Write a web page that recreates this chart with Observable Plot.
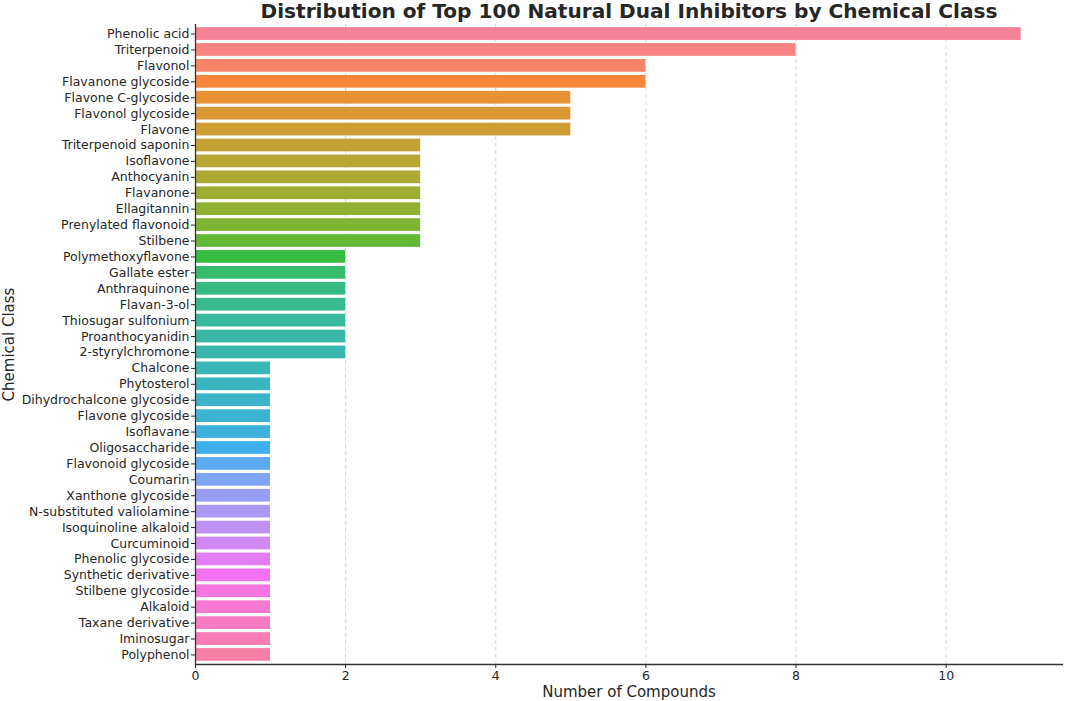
<!DOCTYPE html>
<html>
<head>
<meta charset="utf-8">
<script src="https://cdn.jsdelivr.net/npm/d3@7"></script>
<script src="https://cdn.jsdelivr.net/npm/@observablehq/plot@0.6"></script>
<style>
  html, body { margin: 0; padding: 0; background: #fff; }
  body { width: 1065px; height: 701px; overflow: hidden; font-family: "DejaVu Sans", sans-serif; }
  #title { position: relative; height: 24px; width: 1065px; }
  #title span { position: absolute; left: 629px; top: 0px; transform: translateX(-50%); white-space: nowrap;
    font-size: 20.1px; font-weight: bold; color: #262626; line-height: 22px; }
</style>
</head>
<body>
<div id="title"><span>Distribution of Top 100 Natural Dual Inhibitors by Chemical Class</span></div>
<div id="chart"></div>
<script>
const classes = [
  "Phenolic acid", "Triterpenoid", "Flavonol", "Flavanone glycoside", "Flavone C-glycoside",
  "Flavonol glycoside", "Flavone", "Triterpenoid saponin", "Isoflavone", "Anthocyanin",
  "Flavanone", "Ellagitannin", "Prenylated flavonoid", "Stilbene", "Polymethoxyflavone",
  "Gallate ester", "Anthraquinone", "Flavan-3-ol", "Thiosugar sulfonium", "Proanthocyanidin",
  "2-styrylchromone", "Chalcone", "Phytosterol", "Dihydrochalcone glycoside", "Flavone glycoside",
  "Isoflavane", "Oligosaccharide", "Flavonoid glycoside", "Coumarin", "Xanthone glycoside",
  "N-substituted valiolamine", "Isoquinoline alkaloid", "Curcuminoid", "Phenolic glycoside",
  "Synthetic derivative", "Stilbene glycoside", "Alkaloid", "Taxane derivative", "Iminosugar", "Polyphenol"
];
const counts = [
  11, 8, 6, 6, 5,
  5, 5, 3, 3, 3,
  3, 3, 3, 3, 2,
  2, 2, 2, 2, 2,
  2, 1, 1, 1, 1,
  1, 1, 1, 1, 1,
  1, 1, 1, 1,
  1, 1, 1, 1, 1, 1
];
const xTicks = [0, 2, 4, 6, 8, 10];

// HUSL (HSLuv) conversion, as used by seaborn's "husl" palette
const M = [
  [3.240969941904521, -1.537383177570093, -0.498610760293],
  [-0.96924363628087, 1.87596750150772, 0.041555057407175],
  [0.055630079696993, -0.20397695888897, 1.056971514242878]
];
const refU = 0.19783000664283, refV = 0.46831999493879;
const kappa = 903.2962962, epsilon = 0.0088564516;
function getBounds(L) {
  const res = [];
  const sub1 = Math.pow(L + 16, 3) / 1560896;
  const sub2 = sub1 > epsilon ? sub1 : L / kappa;
  for (let c = 0; c < 3; c++) {
    const [m1, m2, m3] = M[c];
    for (let t = 0; t < 2; t++) {
      const top1 = (284517 * m1 - 94839 * m3) * sub2;
      const top2 = (838422 * m3 + 769860 * m2 + 731718 * m1) * L * sub2 - 769860 * t * L;
      const bottom = (632260 * m3 - 126452 * m2) * sub2 + 126452 * t;
      res.push([top1 / bottom, top2 / bottom]);
    }
  }
  return res;
}
function maxChroma(L, H) {
  const hrad = H / 360 * Math.PI * 2;
  let min = Infinity;
  for (const [slope, intercept] of getBounds(L)) {
    const len = intercept / (Math.sin(hrad) - slope * Math.cos(hrad));
    if (len >= 0) min = Math.min(min, len);
  }
  return min;
}
function fromLinear(c) { return c <= 0.0031308 ? 12.92 * c : 1.055 * Math.pow(c, 1 / 2.4) - 0.055; }
function huslToRgb(H, S, L) {
  const C = maxChroma(L, H) / 100 * S;
  const hrad = H / 360 * Math.PI * 2;
  const U = C * Math.cos(hrad), V = C * Math.sin(hrad);
  const varU = U / (13 * L) + refU, varV = V / (13 * L) + refV;
  const Y = L <= 8 ? L / kappa : Math.pow((L + 16) / 116, 3);
  const X = 0 - (9 * Y * varU) / ((varU - 4) * varV - varU * varV);
  const Z = (9 * Y - 15 * varV * Y - varV * X) / (3 * varV);
  const rgb = M.map(r => fromLinear(r[0] * X + r[1] * Y + r[2] * Z));
  return d3.rgb(...rgb.map(v => Math.round(Math.max(0, Math.min(1, v)) * 255))).formatHex();
}
function huslPalette(n, h, s, l) {
  const out = [];
  for (let i = 0; i < n; i++) {
    const hue = ((i / n + h) % 1) * 359;
    out.push(huslToRgb(hue, s * 99, l * 99));
  }
  return out;
}
const palette = huslPalette(classes.length, 0.01, 0.9, 0.685);

const data = classes.map((c, i) => ({cls: c, count: counts[i]}));
const textColor = "#262626";

const chart = Plot.plot({
  width: 1065,
  height: 677,
  marginTop: 0,
  marginLeft: 195,
  marginRight: 3,
  marginBottom: 37,
  style: {fontFamily: "DejaVu Sans, sans-serif", fontSize: "12.5px", color: textColor, background: "#fff"},
  x: {domain: [0, 11.55], ticks: xTicks},
  y: {domain: classes, padding: 0.2},
  color: {domain: classes, range: palette},
  marks: [
    Plot.gridX(xTicks, {stroke: "#b0b0b0", strokeOpacity: 0.7, strokeDasharray: "4,3", strokeWidth: 0.8}),
    Plot.barX(data, {x: "count", y: "cls", fill: "cls"}),
    Plot.ruleX([0], {stroke: "#333", strokeWidth: 1.3}),
    Plot.frame({anchor: "bottom", stroke: "#333", strokeWidth: 1.3}),
    Plot.axisX(xTicks, {tickSize: 4, tickPadding: 3, fontSize: 12.5, label: "Number of Compounds",
      labelAnchor: "center", labelArrow: "none", labelOffset: 32}),
    Plot.axisY({tickSize: 4, tickPadding: 2, fontSize: 12.5, label: "Chemical Class",
      labelAnchor: "center", labelArrow: "none", labelOffset: 192})
  ]
});
chart.querySelectorAll("g[aria-label='x-axis label'] text, g[aria-label='y-axis label'] text").forEach(t => t.setAttribute("font-size", "15px"));
document.getElementById("chart").appendChild(chart);
</script>
</body>
</html>
